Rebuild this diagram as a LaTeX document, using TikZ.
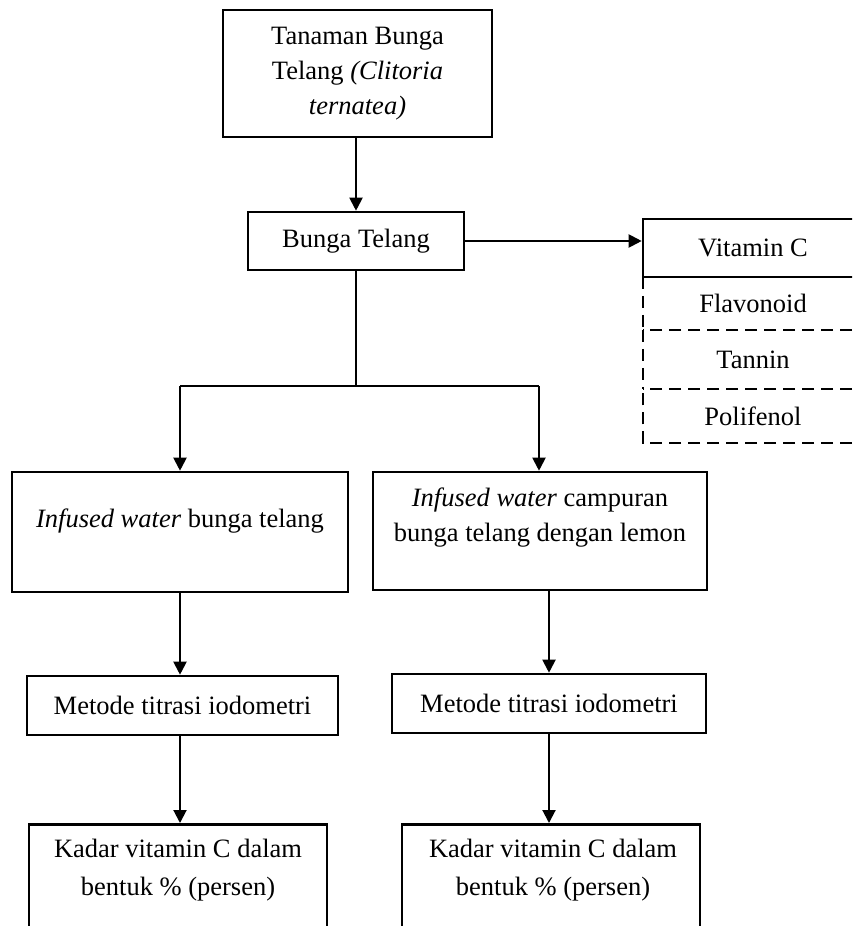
\documentclass[tikz,border=0pt]{standalone}
\usepackage{fontspec}
\setmainfont{Liberation Serif}
\usetikzlibrary{arrows.meta}
\begin{document}
\begin{tikzpicture}[x=1pt,y=-1pt,
  box/.style={draw, line width=2.6pt, rectangle, inner sep=0pt,
    font=\fontsize{26.5}{35}\selectfont, align=center},
  cell/.style={rectangle, inner sep=0pt, font=\fontsize{26.5}{35}\selectfont, align=center},
  dl/.style={line width=2.4pt, dash pattern=on 12pt off 7pt},
  txt/.style={inner sep=0pt, align=center, font=\fontsize{26.5}{35}\selectfont},
  txtk/.style={inner sep=0pt, align=center, font=\fontsize{26.5}{38}\selectfont},
  arr/.style={line width=2pt, -{Triangle[length=13pt,width=13pt]}},
  ln/.style={line width=1.6pt}]
\useasboundingbox (0,0) rectangle (852,926);
\fill[white] (0,0) rectangle (852,926);
\clip (0,0) rectangle (852,926);

% top
\node[box, minimum width=269pt, minimum height=127pt] (top) at (357.5,73.5) {};
\node[txt] (toptxt) at (357.5,74) {Tanaman Bunga\\ Telang \textit{(Clitoria}\\ \textit{ternatea)}};

% Bunga Telang
\node[box, minimum width=216pt, minimum height=58pt] (bt) at (356,241) {Bunga Telang};

% right column of contents
\node[cell, minimum width=220pt, minimum height=53pt] (fl) at (753,303.5) {Flavonoid};
\node[cell, minimum width=220pt, minimum height=59pt] (ta) at (753,359.5) {Tannin};
\node[cell, minimum width=220pt, minimum height=54pt] (po) at (753,416) {Polifenol};
\coordinate (edge) at (852,0);
\draw[dl] (fl.north west) -- (fl.south west);
\draw[dl] (ta.north west) -- (ta.south west);
\draw[dl] (po.south -| edge) -- (po.south west) -- (po.north west);
\draw[dl] (fl.south -| edge) -- (fl.south west);
\draw[dl] (ta.south -| edge) -- (ta.south west);
\node[box, fill=white, minimum width=220pt, minimum height=58pt] (vc) at (753,248) {Vitamin C};

% infused water boxes
\node[box, minimum width=336pt, minimum height=120pt] (iwl) at (180,532) {};
\node[txt] (iwltxt) at (180,521) {\textit{Infused water} bunga telang};
\node[box, minimum width=334pt, minimum height=118pt] (iwr) at (540,531) {};
\node[txt] (iwrtxt) at (540,518) {\textit{Infused water} campuran\\ bunga telang dengan lemon};

% metode boxes
\node[box, minimum width=311pt, minimum height=59pt] (ml) at (182.5,705.5) {Metode titrasi iodometri};
\node[box, minimum width=314pt, minimum height=59pt] (mr) at (549,703.5) {Metode titrasi iodometri};

% kadar boxes
\node[box, minimum width=298pt, minimum height=160pt, anchor=north] (kl) at (178,823) {};
\node[txtk] (kltxt) at (178,870) {Kadar vitamin C dalam\\ bentuk \% (persen)};
\node[box, minimum width=298pt, minimum height=160pt, anchor=north] (kr) at (551,823) {};
\node[txtk] (krtxt) at (553,870) {Kadar vitamin C dalam\\ bentuk \% (persen)};

% connectors
\coordinate (j) at (356,386);
\coordinate (jl) at (180,386);
\coordinate (jr) at (539,386);
\draw[arr] (top.south -| bt.north) -- (bt.north);
\draw[arr] (bt.east) -- (bt.east -| vc.west);
\draw[ln] (bt.south) -- (j);
\draw[ln] (jl) -- (jr);
\draw[arr] (jl) -- (jl |- iwl.north);
\draw[arr] (jr) -- (jr |- iwr.north);
\draw[arr] (jl |- iwl.south) -- (jl |- ml.north);
\draw[arr] (mr.north |- iwr.south) -- (mr.north);
\draw[arr] (jl |- ml.south) -- (jl |- kl.north);
\draw[arr] (mr.south) -- (mr.south |- kr.north);
\end{tikzpicture}
\end{document}
